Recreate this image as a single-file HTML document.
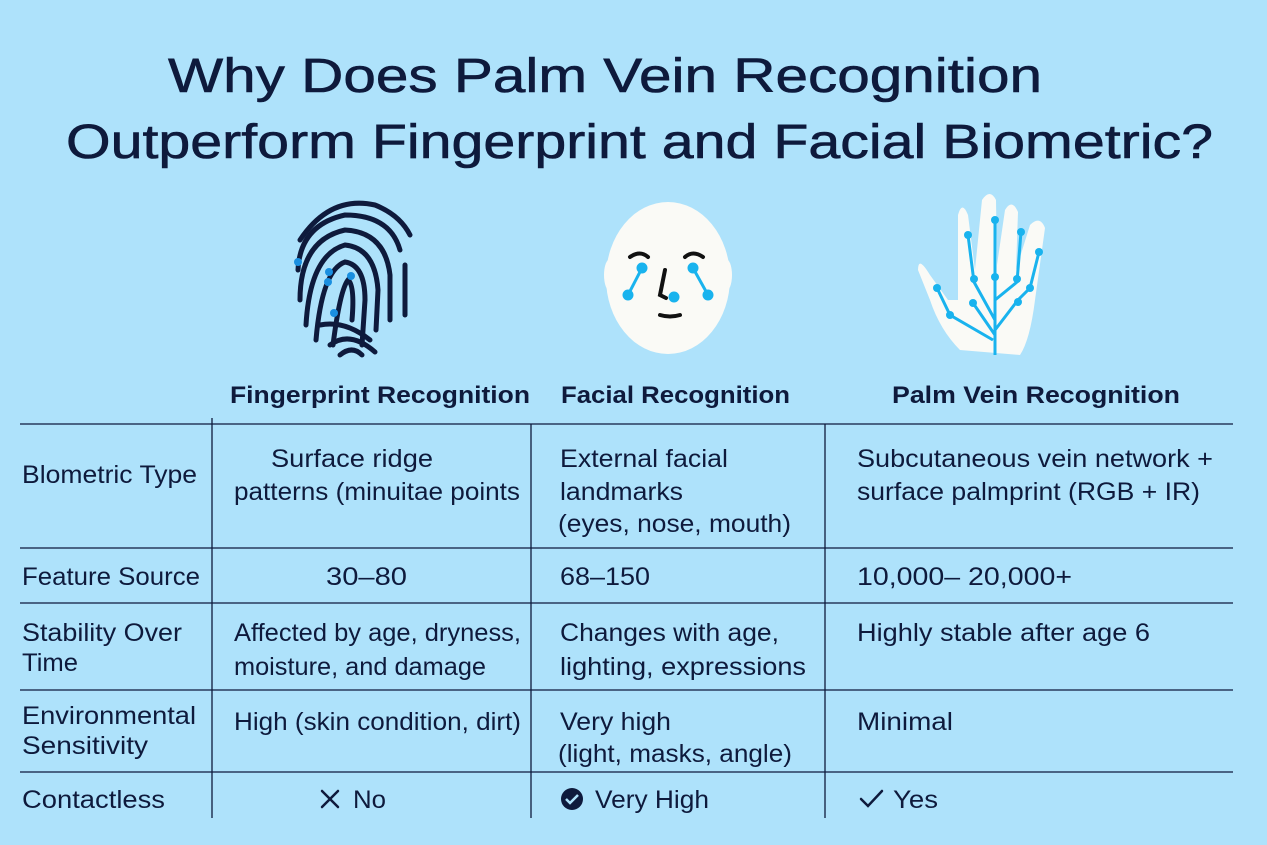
<!DOCTYPE html>
<html><head><meta charset="utf-8"><style>
body{margin:0;background:#aee2fb;}
svg{display:block}
text{font-family:"Liberation Sans",sans-serif;fill:#0e1a3c;}
</style></head><body>
<svg width="1267" height="845" viewBox="0 0 1267 845" xmlns="http://www.w3.org/2000/svg">
<rect width="1267" height="845" fill="#aee2fb"/>
<text x="168" y="92" font-size="48" textLength="874" lengthAdjust="spacingAndGlyphs" stroke="#0e1a3c" stroke-width="0.6">Why Does Palm Vein Recognition</text>
<text x="66" y="158" font-size="48" textLength="1147" lengthAdjust="spacingAndGlyphs" stroke="#0e1a3c" stroke-width="0.6">Outperform Fingerprint and Facial Biometric?</text>

<!-- fingerprint -->
<g fill="none" stroke="#0e1a3c" stroke-width="5" stroke-linecap="round">
<path d="M300 240 Q330 195 375 205 Q400 215 410 235"/>
<path d="M298 270 Q300 225 345 215 Q390 215 400 250"/>
<path d="M300 300 Q300 240 345 230 Q385 232 390 275 L390 320"/>
<path d="M306 325 Q310 255 345 245 Q375 248 378 290 L376 330"/>
<path d="M316 340 Q322 270 345 262 Q365 265 365 300 L362 345"/>
<path d="M333 345 Q340 290 348 280 Q355 285 352 320"/>
<path d="M405 265 L405 315"/>
<path d="M320 325 Q345 320 370 340"/>
<path d="M330 345 Q350 330 375 352"/>
<path d="M340 355 Q352 345 362 355"/>
</g>
<g fill="#1a8fe0"><circle cx="298" cy="262" r="4"/><circle cx="329" cy="272" r="4"/><circle cx="328" cy="282" r="4"/><circle cx="351" cy="276" r="4"/><circle cx="334" cy="313" r="4"/></g>

<!-- face -->
<ellipse cx="668" cy="278" rx="62" ry="76" fill="#fafaf6"/>
<ellipse cx="610" cy="275" rx="6" ry="16" fill="#fafaf6"/><ellipse cx="726" cy="275" rx="6" ry="16" fill="#fafaf6"/>
<g fill="none" stroke="#111" stroke-width="4" stroke-linecap="round">
<path d="M630 257 Q640 250 648 257"/><path d="M685 257 Q693 250 703 257"/>
<path d="M665 270 L660 295 L666 298"/><path d="M660 315 Q670 318 680 315"/>
</g>
<g stroke="#19b3ee" stroke-width="3" fill="#19b3ee">
<line x1="642" y1="268" x2="628" y2="295"/><line x1="693" y1="268" x2="708" y2="295"/>
<circle cx="642" cy="268" r="4"/><circle cx="628" cy="295" r="4"/><circle cx="693" cy="268" r="4"/><circle cx="708" cy="295" r="4"/><circle cx="674" cy="297" r="4"/>
</g>

<!-- hand -->
<path d="M960 350 Q940 330 930 300 L918 270 Q918 255 930 275 L948 300 L958 300 L958 215 Q962 200 968 215 L975 270 L982 200 Q990 188 996 200 L997 265 L1005 210 Q1012 198 1018 212 L1016 270 L1030 225 Q1040 215 1045 228 L1035 300 Q1030 340 1020 355 Z" fill="#fafaf6"/>
<g stroke="#19b3ee" stroke-width="3" fill="none">
<path d="M995 355 L995 220"/><path d="M995 320 L974 282 L968 235"/><path d="M995 300 L1017 282 L1021 232"/>
<path d="M995 335 L973 303"/><path d="M995 330 L1018 300 L1030 288 L1039 252"/><path d="M993 340 L950 315 L937 288"/>
</g>
<g fill="#19b3ee"><circle cx="995" cy="220" r="4"/><circle cx="968" cy="235" r="4"/><circle cx="974" cy="279" r="4"/><circle cx="995" cy="277" r="4"/><circle cx="1021" cy="232" r="4"/><circle cx="1017" cy="279" r="4"/><circle cx="1039" cy="252" r="4"/><circle cx="1030" cy="288" r="4"/><circle cx="973" cy="303" r="4"/><circle cx="1018" cy="302" r="4"/><circle cx="937" cy="288" r="4"/><circle cx="950" cy="315" r="4"/></g>

<!-- grid -->
<g stroke="#0e1a3c" stroke-width="1.3">
<line x1="20" y1="424" x2="1233" y2="424"/>
<line x1="20" y1="548" x2="1233" y2="548"/>
<line x1="20" y1="603" x2="1233" y2="603"/>
<line x1="20" y1="690" x2="1233" y2="690"/>
<line x1="20" y1="772" x2="1233" y2="772"/>
<line x1="212" y1="418" x2="212" y2="818"/>
<line x1="531" y1="424" x2="531" y2="818"/>
<line x1="825" y1="424" x2="825" y2="818"/>
</g>

<g font-size="24" font-weight="bold">
<text x="230" y="403" textLength="300" lengthAdjust="spacingAndGlyphs">Fingerprint Recognition</text>
<text x="561" y="403" textLength="229" lengthAdjust="spacingAndGlyphs">Facial Recognition</text>
<text x="892" y="403" textLength="288" lengthAdjust="spacingAndGlyphs">Palm Vein Recognition</text>
</g>
<g font-size="25" lengthAdjust="spacingAndGlyphs">
<text x="22" y="483" textLength="175" lengthAdjust="spacingAndGlyphs">Blometric Type</text>
<text x="271" y="467" textLength="162" lengthAdjust="spacingAndGlyphs">Surface ridge</text>
<text x="234" y="500" textLength="286" lengthAdjust="spacingAndGlyphs">patterns (minuitae points</text>
<text x="560" y="467" textLength="168" lengthAdjust="spacingAndGlyphs">External facial</text>
<text x="560" y="500" textLength="123" lengthAdjust="spacingAndGlyphs">landmarks</text>
<text x="558" y="532" textLength="233" lengthAdjust="spacingAndGlyphs">(eyes, nose, mouth)</text>
<text x="857" y="467" textLength="356" lengthAdjust="spacingAndGlyphs">Subcutaneous vein network +</text>
<text x="857" y="500" textLength="343" lengthAdjust="spacingAndGlyphs">surface palmprint (RGB + IR)</text>
<text x="22" y="585" textLength="178" lengthAdjust="spacingAndGlyphs">Feature Source</text>
<text x="326" y="585" textLength="81" lengthAdjust="spacingAndGlyphs">30–80</text>
<text x="560" y="585" textLength="90" lengthAdjust="spacingAndGlyphs">68–150</text>
<text x="857" y="585" textLength="215" lengthAdjust="spacingAndGlyphs">10,000– 20,000+</text>
<text x="22" y="641" textLength="160" lengthAdjust="spacingAndGlyphs">Stability Over</text>
<text x="22" y="671" textLength="56" lengthAdjust="spacingAndGlyphs">Time</text>
<text x="234" y="641" textLength="287" lengthAdjust="spacingAndGlyphs">Affected by age, dryness,</text>
<text x="234" y="675" textLength="252" lengthAdjust="spacingAndGlyphs">moisture, and damage</text>
<text x="560" y="641" textLength="219" lengthAdjust="spacingAndGlyphs">Changes with age,</text>
<text x="560" y="675" textLength="246" lengthAdjust="spacingAndGlyphs">lighting, expressions</text>
<text x="857" y="641" textLength="293" lengthAdjust="spacingAndGlyphs">Highly stable after age 6</text>
<text x="22" y="724" textLength="174" lengthAdjust="spacingAndGlyphs">Environmental</text>
<text x="22" y="754" textLength="126" lengthAdjust="spacingAndGlyphs">Sensitivity</text>
<text x="234" y="730" textLength="287" lengthAdjust="spacingAndGlyphs">High (skin condition, dirt)</text>
<text x="560" y="730" textLength="111" lengthAdjust="spacingAndGlyphs">Very high</text>
<text x="558" y="762" textLength="234" lengthAdjust="spacingAndGlyphs">(light, masks, angle)</text>
<text x="857" y="730" textLength="96" lengthAdjust="spacingAndGlyphs">Minimal</text>
<text x="22" y="808" textLength="143" lengthAdjust="spacingAndGlyphs">Contactless</text>
<text x="353" y="808" textLength="33" lengthAdjust="spacingAndGlyphs">No</text>
<text x="595" y="808" textLength="114" lengthAdjust="spacingAndGlyphs">Very High</text>
<text x="893" y="808" textLength="45" lengthAdjust="spacingAndGlyphs">Yes</text>
</g>
<g stroke="#0e1a3c" stroke-width="2.5" fill="none" stroke-linecap="round">
<line x1="322" y1="791" x2="338" y2="807"/><line x1="338" y1="791" x2="322" y2="807"/>
<path d="M861 799 L868 806 L882 791"/>
</g>
<circle cx="572" cy="799" r="11" fill="#0e1a3c"/>
<path d="M566 799 L570 803 L578 795" stroke="#aee2fb" stroke-width="2.5" fill="none"/>
</svg>
</body></html>
